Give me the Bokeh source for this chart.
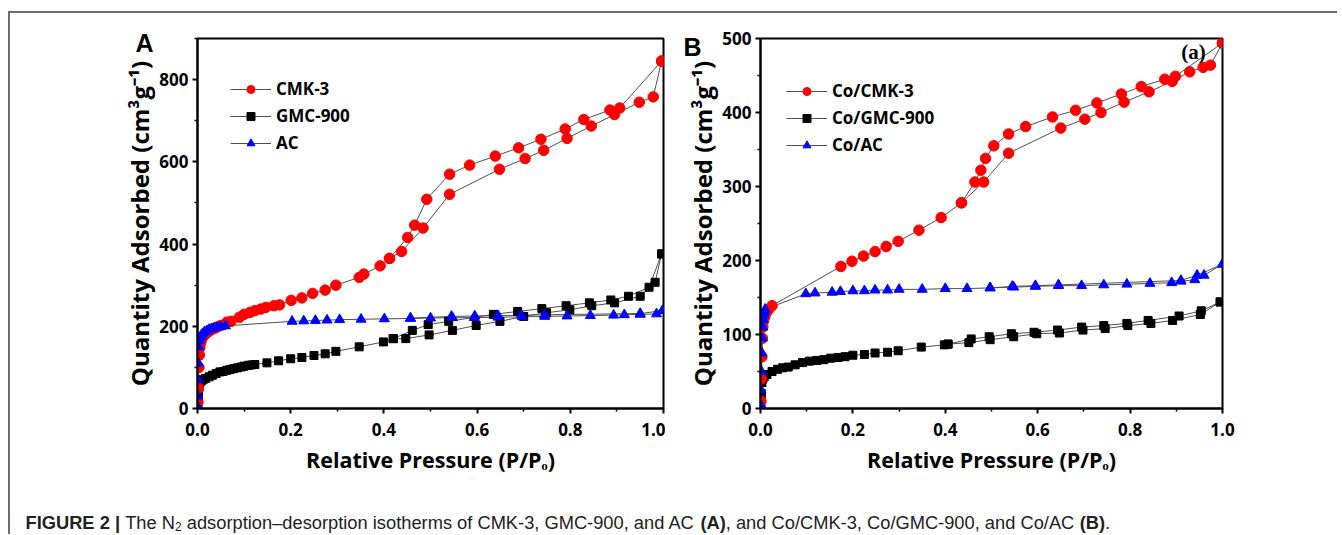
from bokeh.plotting import figure
from bokeh.models import Range1d, FixedTicker, Label, Legend, LegendItem
from bokeh.layouts import column, row
from bokeh.embed import file_html
from bokeh.resources import INLINE

# ---------------- data: panel A ----------------
cmk3_ads_p = [0.001, 0.002, 0.003, 0.004, 0.005, 0.007, 0.009, 0.012, 0.016, 0.02, 0.025, 0.03, 0.036, 0.042,
              0.05, 0.063, 0.072, 0.09, 0.10, 0.113, 0.123, 0.136, 0.147, 0.164, 0.176, 0.201, 0.224, 0.247,
              0.274, 0.297, 0.347, 0.357, 0.392, 0.412, 0.438, 0.484, 0.541, 0.648, 0.703, 0.743, 0.793,
              0.845, 0.895, 0.948, 0.978, 0.996]
cmk3_ads_v = [15, 50, 100, 130, 148, 160, 168, 175, 180, 184, 188, 192, 195, 198,
              202, 210, 212, 222, 229, 234, 238, 242, 246, 250, 252, 263, 269, 280,
              288, 300, 319, 327, 347, 365, 382, 439, 521, 582, 608, 628, 657,
              687, 715, 745, 758, 845]
cmk3_des_p = [0.996, 0.906, 0.885, 0.829, 0.789, 0.737, 0.689, 0.639, 0.584, 0.541, 0.492, 0.466, 0.451, 0.412]
cmk3_des_v = [845, 731, 726, 703, 680, 655, 634, 614, 592, 570, 509, 446, 416, 365]

gmc_ads_p = [0.001, 0.002, 0.003, 0.005, 0.008, 0.012, 0.017, 0.025, 0.032, 0.04, 0.048, 0.055, 0.063, 0.07,
             0.078, 0.086, 0.094, 0.10, 0.109, 0.116, 0.123, 0.149, 0.174, 0.2, 0.224, 0.25, 0.274, 0.297,
             0.347, 0.399, 0.42, 0.447, 0.497, 0.547, 0.598, 0.649, 0.70, 0.749, 0.799, 0.846, 0.895,
             0.95, 0.982, 0.996]
gmc_ads_v = [10, 30, 50, 62, 67, 70, 73, 77, 81, 85, 89, 90, 93, 95,
             97, 99, 101, 103, 105, 106, 107, 111, 116, 121, 124, 129, 133, 139,
             150, 162, 170, 170, 179, 190, 202, 212, 224, 233, 240, 250, 257,
             273, 307, 376]
gmc_des_p = [0.996, 0.969, 0.925, 0.887, 0.841, 0.791, 0.739, 0.687, 0.635, 0.539, 0.495, 0.461, 0.42]
gmc_des_v = [376, 295, 273, 264, 257, 250, 243, 236, 229, 212, 204, 190, 170]

ac_ads_p = [0.0005, 0.001, 0.0015, 0.002, 0.003, 0.004, 0.006, 0.008, 0.011, 0.015, 0.02, 0.025, 0.03, 0.036,
            0.043, 0.05, 0.06, 0.203, 0.228, 0.253, 0.278, 0.305, 0.351, 0.401, 0.457, 0.50, 0.547, 0.594,
            0.645, 0.697, 0.745, 0.793, 0.843, 0.893, 0.916, 0.95, 0.985, 0.998]
ac_ads_v = [5, 30, 70, 110, 150, 165, 173, 178, 182, 186, 189, 192, 194, 196,
            198, 199, 201, 212, 213, 214, 215, 216, 217, 218, 219, 220, 221, 221,
            222, 223, 224, 225, 226, 227, 228, 229, 230, 238]
ac_des_p = [0.998, 0.95, 0.745, 0.695, 0.645, 0.595, 0.545, 0.457]
ac_des_v = [238, 231, 228, 227, 226, 225, 224, 220]

# ---------------- data: panel B ----------------
cocmk_ads_p = [0.001, 0.002, 0.003, 0.004, 0.005, 0.006, 0.008, 0.01, 0.013, 0.018, 0.025, 0.174, 0.198, 0.223,
               0.248, 0.272, 0.298, 0.343, 0.391, 0.435, 0.483, 0.537, 0.65, 0.702, 0.737, 0.787, 0.841,
               0.891, 0.929, 0.958, 0.974, 1.0]
cocmk_ads_v = [10, 40, 70, 95, 110, 118, 122, 126, 130, 134, 139, 192, 199, 206,
               212, 219, 226, 241, 258, 278, 306, 345, 379, 391, 400, 414, 428,
               442, 455, 461, 464, 494]
cocmk_des_p = [1.0, 0.898, 0.875, 0.824, 0.781, 0.728, 0.682, 0.632, 0.574, 0.537, 0.505, 0.487, 0.477, 0.464, 0.435]
cocmk_des_v = [494, 449, 445, 435, 425, 413, 403, 394, 381, 371, 355, 338, 322, 306, 278]

cogmc_ads_p = [0.001, 0.002, 0.003, 0.005, 0.008, 0.014, 0.025, 0.037, 0.048, 0.06, 0.075, 0.091, 0.106, 0.122,
               0.137, 0.152, 0.168, 0.183, 0.2, 0.225, 0.248, 0.275, 0.298, 0.348, 0.398, 0.406, 0.451,
               0.497, 0.548, 0.598, 0.647, 0.698, 0.746, 0.795, 0.845, 0.892, 0.952, 0.995]
cogmc_ads_v = [5, 20, 35, 40, 43, 46, 50, 53, 55, 56, 59, 62, 64, 65,
               66, 68, 69, 70, 72, 73, 75, 76, 78, 83, 86, 87, 89,
               93, 97, 101, 102, 106, 108, 112, 115, 119, 127, 144]
cogmc_des_p = [0.995, 0.954, 0.906, 0.839, 0.793, 0.743, 0.695, 0.643, 0.592, 0.543, 0.495, 0.456, 0.406]
cogmc_des_v = [144, 132, 125, 119, 115, 112, 110, 106, 103, 101, 97, 94, 87]

coac_ads_p = [0.0005, 0.001, 0.002, 0.003, 0.004, 0.005, 0.006, 0.007, 0.008, 0.01, 0.098, 0.118, 0.155, 0.173,
              0.2, 0.225, 0.248, 0.275, 0.3, 0.35, 0.4, 0.447, 0.497, 0.548, 0.595, 0.645, 0.695, 0.743,
              0.793, 0.843, 0.89, 0.91, 0.94, 0.96, 1.0]
coac_ads_v = [5, 25, 50, 75, 95, 110, 120, 126, 130, 134, 155, 156, 157, 158,
              159, 159, 160, 160, 161, 161, 162, 162, 163, 164, 165, 166, 166, 167,
              168, 169, 170, 172, 174, 180, 195]
coac_des_p = [1.0, 0.945, 0.91, 0.645, 0.595, 0.545, 0.497]
coac_des_v = [195, 180, 173, 167, 166, 165, 163]

x_ticks = [0.0, 0.2, 0.4, 0.6, 0.8, 1.0]
x_minor = [0.1, 0.3, 0.5, 0.7, 0.9]
ya_ticks = [0, 200, 400, 600, 800]
ya_minor = [100, 300, 500, 700, 900]
yb_ticks = [0, 100, 200, 300, 400, 500]
yb_minor = [50, 150, 250, 350, 450]

labels_a = ["CMK-3", "GMC-900", "AC"]
labels_b = ["Co/CMK-3", "Co/GMC-900", "Co/AC"]

LINE = "#505050"
RED = "#ff0000"
BLACK = "#000000"
BLUE = "#0000ff"
FONT = "Open Sans"


def make_panel(width, height, borders, ymax, yticks, yminor, series, labels, legend_loc):
    p = figure(width=width, height=height, output_backend="svg", toolbar_location=None,
               x_range=Range1d(0, 1), y_range=Range1d(0, ymax),
               min_border_left=borders[0], min_border_right=borders[1],
               min_border_top=borders[2], min_border_bottom=borders[3])
    p.grid.visible = False
    p.outline_line_color = "black"
    p.outline_line_width = 2
    p.background_fill_color = "white"
    p.border_fill_color = "white"

    p.xaxis.ticker = FixedTicker(ticks=x_ticks, minor_ticks=x_minor)
    p.yaxis.ticker = FixedTicker(ticks=yticks, minor_ticks=yminor)
    p.xaxis.major_label_overrides = {t: f"{t:.1f}" for t in x_ticks}
    for ax in (p.xaxis[0], p.yaxis[0]):
        ax.axis_line_width = 2
        ax.axis_line_color = "black"
        ax.major_tick_line_width = 2
        ax.minor_tick_line_width = 1.5
        ax.major_tick_out = 5
        ax.major_tick_in = 0
        ax.minor_tick_out = 3
        ax.minor_tick_in = 0
        ax.major_label_text_font = FONT
        ax.major_label_text_font_style = "bold"
        ax.major_label_text_font_size = "17px"
        ax.major_label_text_color = "black"
        ax.axis_label_text_font = FONT
        ax.axis_label_text_font_style = "bold"
        ax.axis_label_text_color = "black"
    p.xaxis.major_label_standoff = 9
    p.yaxis.major_label_standoff = 4
    p.xaxis.axis_label = "Relative Pressure (P/P\u2092)"
    p.xaxis.axis_label_text_font_size = "21.5px"
    p.xaxis.axis_label_standoff = 6
    p.yaxis.axis_label = "Quantity Adsorbed (cm\u00b3g\u207b\u00b9)"
    p.yaxis.axis_label_text_font_size = "24px"
    p.yaxis.axis_label_standoff = 0

    styles = [("circle", RED, 10.5), ("square", BLACK, 8), ("triangle", BLUE, 10)]
    lines = []
    for (ads_p, ads_v, des_p, des_v) in series:
        l1 = p.line(ads_p, ads_v, line_color=LINE, line_width=1)
        p.line(des_p, des_v, line_color=LINE, line_width=1)
        lines.append(l1)
    scat = [None, None, None]
    for idx in (1, 0, 2):
        ads_p, ads_v, des_p, des_v = series[idx]
        m, c, s = styles[idx]
        r = p.scatter(ads_p + des_p, ads_v + des_v, marker=m, size=s, fill_color=c, line_color=c)
        scat[idx] = r
    items = [LegendItem(label=labels[i], renderers=[lines[i], scat[i]]) for i in range(3)]
    leg = Legend(items=items, location=legend_loc, glyph_width=41, glyph_height=20, label_height=20,
                 spacing=4, padding=5, margin=0, label_standoff=5, border_line_color=None,
                 background_fill_alpha=0, label_text_font=FONT, label_text_font_style="bold",
                 label_text_font_size="17px", label_text_color="black")
    p.add_layout(leg)
    return p


pA = make_panel(655, 471, (187, 2, 25, 74), 900, ya_ticks, ya_minor,
                [(cmk3_ads_p, cmk3_ads_v, cmk3_des_p, cmk3_des_v),
                 (gmc_ads_p, gmc_ads_v, gmc_des_p, gmc_des_v),
                 (ac_ads_p, ac_ads_v, ac_des_p, ac_des_v)], labels_a, (33, 254))
pA.add_layout(Label(x=33, y=352, x_units="screen", y_units="screen", text="A",
                    text_font="Liberation Sans", text_font_style="bold",
                    text_font_size="25px", text_color="black"), "left")

pB = make_panel(672, 471, (95, 115, 23, 76), 500, yb_ticks, yb_minor,
                [(cocmk_ads_p, cocmk_ads_v, cocmk_des_p, cocmk_des_v),
                 (cogmc_ads_p, cogmc_ads_v, cogmc_des_p, cogmc_des_v),
                 (coac_ads_p, coac_ads_v, coac_des_p, coac_des_v)], labels_b, (26, 252))
pB.add_layout(Label(x=18, y=348, x_units="screen", y_units="screen", text="B",
                    text_font="Liberation Sans", text_font_style="bold",
                    text_font_size="25px", text_color="black"), "left")
pB.add_layout(Label(x=0.937, y=466, text="(a)", text_font="Liberation Serif", text_font_style="bold",
                    text_font_size="21px", text_color="black", text_align="center"))

# ---------------- caption ----------------
REG = {' ': 278, '|': 260, '(': 333, ')': 333, ',': 278, '-': 333, '.': 278, '/': 278, '\u2013': 556,
       'A': 667, 'B': 667, 'C': 722, 'D': 722, 'E': 667, 'F': 611, 'G': 778, 'H': 722, 'I': 278, 'K': 667,
       'M': 833, 'N': 722, 'O': 778, 'P': 667, 'R': 722, 'S': 667, 'T': 611, 'U': 722,
       'a': 556, 'b': 556, 'c': 500, 'd': 556, 'e': 556, 'f': 278, 'g': 556, 'h': 556, 'i': 222, 'l': 222,
       'm': 833, 'n': 556, 'o': 556, 'p': 556, 'r': 333, 's': 500, 't': 278, 'u': 556, 'y': 500}
BOLD = {' ': 278, '|': 280, '(': 333, ')': 333, 'A': 722, 'B': 722, 'E': 667, 'F': 611, 'G': 778,
        'I': 278, 'R': 722, 'U': 722}


def text_w(s, size, bold):
    tab = BOLD if bold else REG
    return sum((tab.get(ch, 556)) for ch in s) * size / 1000.0


CS = 18.3
cap_parts = [("FIGURE 2 | ", True, CS, 0), ("The N", False, CS, 0), ("2", False, 12, -4),
             (" adsorption\u2013desorption isotherms of CMK-3, GMC-900, and AC ", False, CS, 0),
             ("(A)", True, CS, 0), (", and Co/CMK-3, Co/GMC-900, and Co/AC ", False, CS, 0),
             ("(B)", True, CS, 0), (".", False, CS, 0)]

pC = figure(width=1327, height=50, output_backend="svg", toolbar_location=None,
            x_range=Range1d(0, 1327), y_range=Range1d(0, 50),
            min_border=0)
pC.axis.visible = False
pC.grid.visible = False
pC.outline_line_color = None
pC.border_fill_color = "white"
xpos = 15.0
for txt, bold, size, dy in cap_parts:
    lead = txt[:len(txt) - len(txt.lstrip(" "))]
    xpos += text_w(lead, size, bold)
    body = txt.strip(" ")
    pC.add_layout(Label(x=xpos, y=12 + dy, text=body, text_font="Liberation Sans",
                        text_font_style="bold" if bold else "normal", text_font_size=f"{size}px",
                        text_color="#222222", text_baseline="alphabetic"))
    xpos += text_w(txt.lstrip(" "), size, bold)

layout = column(row(pA, pB), pC, margin=(11, 0, 0, 8),
                styles={"border-top": "2px solid #6e6e6e", "border-left": "2px solid #6e6e6e"})

open("out.html", "w").write(file_html(layout, INLINE))
